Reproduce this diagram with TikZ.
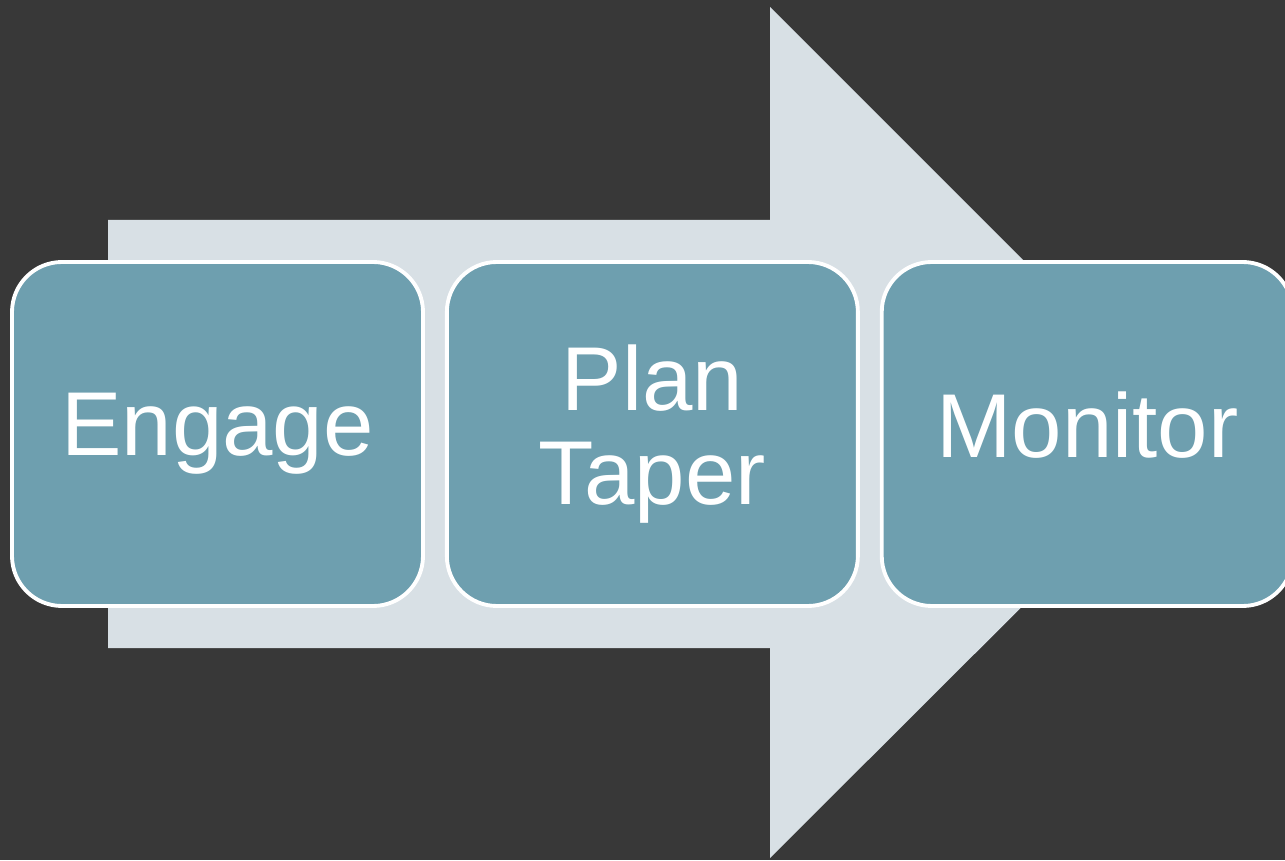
\documentclass[tikz,border=0pt]{standalone}
\usepackage{fontspec}
\setmainfont{Liberation Sans}
\usetikzlibrary{positioning}
\definecolor{Backdrop}{HTML}{383838}
\definecolor{ArrowFill}{HTML}{D8E0E5}
\definecolor{StageFill}{HTML}{6E9FAF}
\tikzset{
  stagebox/.style={draw=white, line width=1.1pt, rounded corners=0.5cm, fill=StageFill,
    minimum width=4.11cm, minimum height=3.44cm, inner sep=0pt, align=center,
    text depth=0.19cm, text=white, font=\fontsize{25.8}{26.8}\selectfont},
  bigarrow/.style={fill=ArrowFill, draw=none},
}
\begin{document}
\begin{tikzpicture}[node distance=0.2cm]
    \fill[Backdrop] (0,0) rectangle (12.85,8.6);
    \useasboundingbox (0,0) rectangle (12.85,8.6);
    % the process arrow behind the stages
    \fill[bigarrow] (1.08,2.12) -- (7.70,2.12) -- (7.70,0.02) -- (11.96,4.27)
      -- (7.70,8.53) -- (7.70,6.40) -- (1.08,6.40) -- cycle;
    \node[stagebox] (engage) at (2.175,4.26) {Engage};
    \node[stagebox, right=of engage] (plan) {Plan\\Taper};
    \node[stagebox, right=of plan] (monitor) {Monitor};
  \end{tikzpicture}
\end{document}
